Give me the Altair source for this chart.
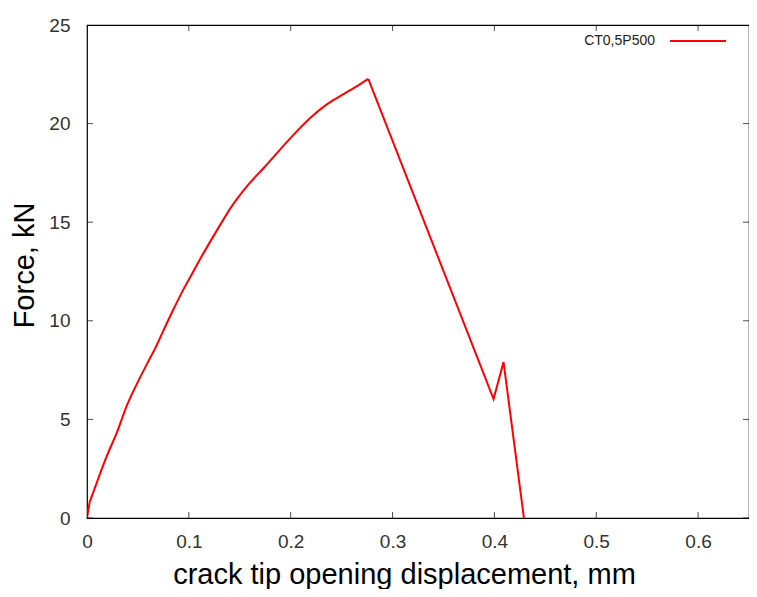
import altair as alt
import pandas as pd

# crack tip opening displacement (mm) and force (kN)
ctod = [0.0, 0.0026, 0.0098, 0.0196, 0.0294, 0.039, 0.049, 0.0587, 0.0669, 0.075,
        0.0848, 0.0946, 0.1044, 0.1125, 0.1289, 0.1419, 0.158, 0.1746, 0.1876,
        0.2039, 0.2202, 0.2365, 0.2528, 0.2659, 0.2762, 0.3992, 0.409, 0.429]
force = [0.0, 0.8, 1.82, 3.16, 4.34, 5.69, 6.8, 7.79, 8.6, 9.5,
         10.57, 11.58, 12.5, 13.26, 14.7, 15.79, 16.88, 17.81, 18.57,
         19.49, 20.33, 21.01, 21.52, 21.93, 22.27, 6.03, 7.91, 0.0]
peak_index = 24  # loading branch ends here, then the straight unloading segments
series_name = "CT0,5P500"

x_ticks = [0, 0.1, 0.2, 0.3, 0.4, 0.5, 0.6]
y_ticks = [0, 5, 10, 15, 20, 25]
x_max = 0.65
y_max = 25

df = pd.DataFrame({"x": ctod, "y": force, "order": list(range(len(ctod)))})
df_load = df.iloc[1:peak_index + 1]
df_start = df.iloc[0:2]
df_drop = df.iloc[peak_index:]
xt = pd.DataFrame({"v": x_ticks})
yt = pd.DataFrame({"v": y_ticks})

FONT = "Liberation Sans"
RED = "#ff0000"
xscale = alt.Scale(domain=[0, x_max], nice=False, zero=False)
yscale = alt.Scale(domain=[0, y_max], nice=False, zero=False)

x_enc = alt.X("x:Q", scale=xscale,
              axis=alt.Axis(title="crack tip opening displacement, mm", values=x_ticks,
                            format="~g", tickSize=0, labelPadding=14, titlePadding=9,
                            labelFlush=False, titleX=317,
                            grid=False, domain=False))
y_enc = alt.Y("y:Q", scale=yscale,
              axis=alt.Axis(title="Force, kN", values=y_ticks, tickSize=0,
                            labelPadding=17, titlePadding=9, labelFlush=False,
                            titleY=240, grid=False, domain=False))

load = alt.Chart(df_load).mark_line(color=RED, strokeWidth=2, clip=True,
                                    interpolate="monotone").encode(
    x=x_enc, y=y_enc, order="order:Q")
start = alt.Chart(df_start).mark_line(color=RED, strokeWidth=2, clip=True).encode(
    x="x:Q", y="y:Q", order="order:Q")
drop = alt.Chart(df_drop).mark_line(color=RED, strokeWidth=2, clip=True).encode(
    x="x:Q", y="y:Q", order="order:Q")

tick_len = 12
bx = alt.Chart(xt).mark_tick(color="black", size=tick_len, thickness=1, orient="vertical", clip=True).encode(
    x=alt.X("v:Q", scale=xscale), y=alt.value("height"))
tx = alt.Chart(xt).mark_tick(color="black", size=tick_len, thickness=1, orient="vertical", clip=True).encode(
    x=alt.X("v:Q", scale=xscale), y=alt.value(0))
ly = alt.Chart(yt).mark_tick(color="black", size=tick_len, thickness=1, orient="horizontal", clip=True).encode(
    y=alt.Y("v:Q", scale=yscale), x=alt.value(0))
ry = alt.Chart(yt).mark_tick(color="black", size=tick_len, thickness=1, orient="horizontal", clip=True).encode(
    y=alt.Y("v:Q", scale=yscale), x=alt.value("width"))

leg_df = pd.DataFrame({"name": [series_name]})
leg_text = alt.Chart(leg_df).mark_text(align="right", baseline="middle", font=FONT,
                                       fontSize=14, color="#222222").encode(
    text="name:N", x=alt.value(568), y=alt.value(16))
leg_line = alt.Chart(leg_df).mark_rule(color=RED, strokeWidth=2).encode(
    x=alt.value(583), x2=alt.value(639), y=alt.value(16))

chart = alt.layer(load, start, drop, bx, tx, ly, ry, leg_text, leg_line).properties(
    width=741, height=581,
    autosize=alt.AutoSizeParams(type="fit", contains="padding"),
    padding={"left": 2, "top": 8, "right": 0, "bottom": 0},
).configure(background="white").configure_view(
    stroke="black", strokeWidth=1.2
).configure_axis(
    labelFont=FONT, titleFont=FONT, labelFontSize=19, titleFontSize=29,
    labelColor="#333333", titleColor="black", titleFontWeight="normal",
)

chart.save("out.html", embed_options={"renderer": "svg", "actions": False})
